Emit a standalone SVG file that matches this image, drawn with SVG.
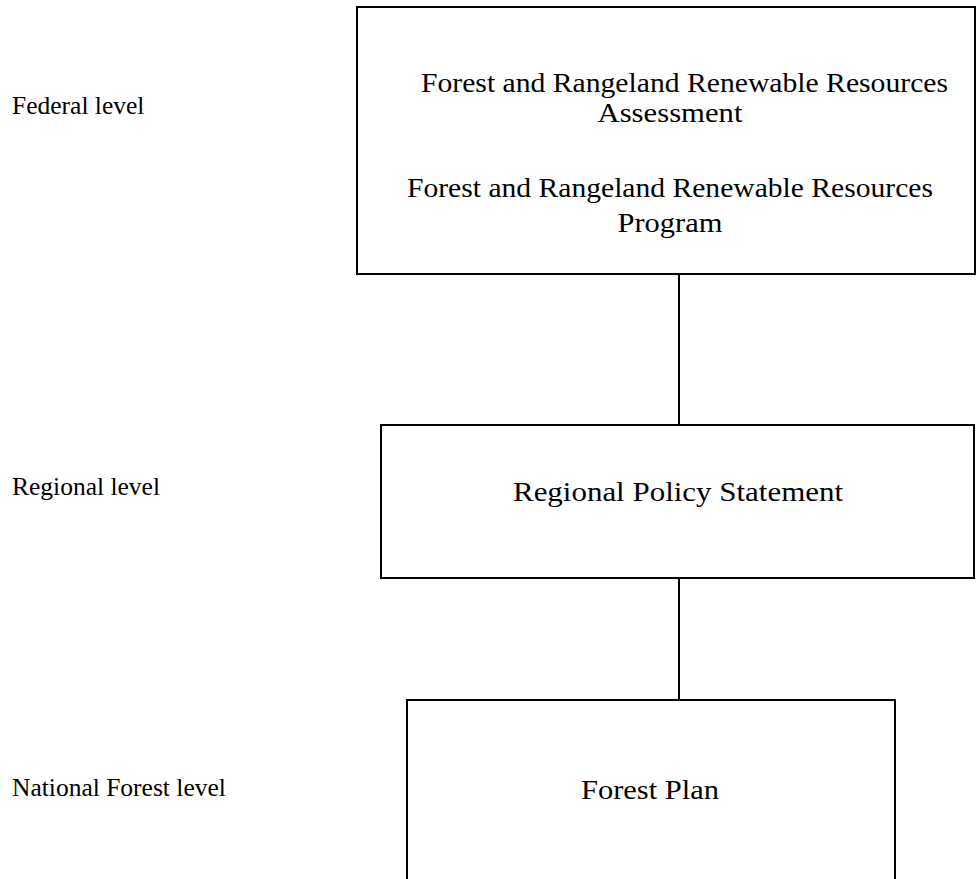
<svg xmlns="http://www.w3.org/2000/svg" width="976" height="879" viewBox="0 0 976 879">
  <style>
    .box { fill: #ffffff; stroke: #000000; stroke-width: 2; }
    .conn { stroke: #000000; stroke-width: 2; fill: none; }
    .title { font-family: "Liberation Serif", "Times New Roman", serif; font-size: 28px; fill: #000000; text-anchor: middle; }
    .level { font-family: "Liberation Serif", "Times New Roman", serif; font-size: 25.5px; fill: #000000; }
  </style>
  <rect width="976" height="879" fill="#ffffff"/>

  <g id="level-labels">
    <text class="level" x="12" y="114">Federal level</text>
    <text class="level" x="12" y="495">Regional level</text>
    <text class="level" x="12" y="796">National Forest level</text>
  </g>

  <g id="connectors">
    <line class="conn" x1="679" y1="274" x2="679" y2="425"/>
    <line class="conn" x1="679" y1="578" x2="679" y2="700"/>
  </g>

  <g id="federal">
    <rect class="box" x="357" y="7" width="618" height="267"/>
    <text class="title" x="684.5" y="92" textLength="527" lengthAdjust="spacingAndGlyphs">Forest and Rangeland Renewable Resources</text>
    <text class="title" x="670" y="122" textLength="145" lengthAdjust="spacingAndGlyphs">Assessment</text>
    <text class="title" x="670" y="197" textLength="526" lengthAdjust="spacingAndGlyphs">Forest and Rangeland Renewable Resources</text>
    <text class="title" x="670" y="232" textLength="105" lengthAdjust="spacingAndGlyphs">Program</text>
  </g>

  <g id="regional">
    <rect class="box" x="381" y="425" width="593" height="153"/>
    <text class="title" x="678" y="501" textLength="330" lengthAdjust="spacingAndGlyphs">Regional Policy Statement</text>
  </g>

  <g id="forest-plan">
    <rect class="box" x="407" y="700" width="488" height="190"/>
    <text class="title" x="650" y="799" textLength="138" lengthAdjust="spacingAndGlyphs">Forest Plan</text>
  </g>
</svg>
